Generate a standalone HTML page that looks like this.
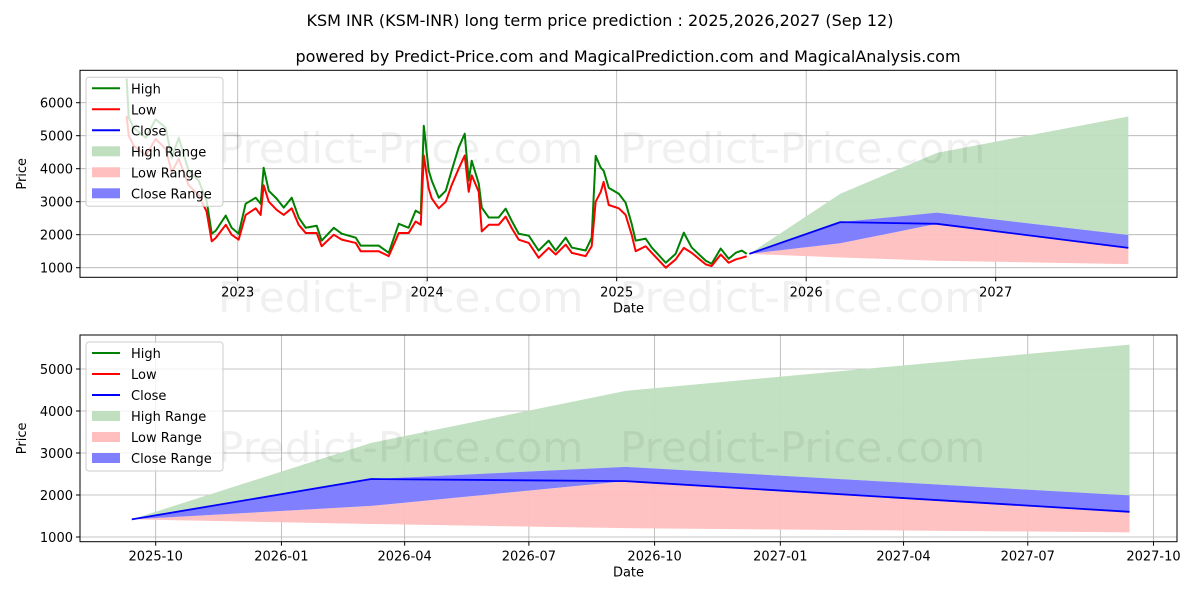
<!DOCTYPE html>
<html><head><meta charset="utf-8"><style>
body{margin:0;background:#fff;}
svg{display:block;font-family:"DejaVu Sans","Liberation Sans",sans-serif;}
</style></head><body>
<svg id="chart" width="1200" height="600" viewBox="0 0 1200 600" xmlns="http://www.w3.org/2000/svg">
<text x="600" y="26" text-anchor="middle" font-size="16">KSM INR (KSM-INR) long term price prediction : 2025,2026,2027 (Sep 12)</text>
<text x="628" y="62" text-anchor="middle" font-size="16">powered by Predict-Price.com and MagicalPrediction.com and MagicalAnalysis.com</text>
<g id="topPanel"></g>
<g id="botPanel"></g>
</svg>
<script>
const histT=[2022.414,2022.425,2022.451,2022.515,2022.567,2022.620,2022.652,2022.689,2022.741,2022.794,2022.836,2022.863,2022.884,2022.937,2022.968,2023.005,2023.042,2023.095,2023.121,2023.137,2023.164,2023.206,2023.243,2023.285,2023.322,2023.359,2023.417,2023.443,2023.507,2023.549,2023.623,2023.649,2023.744,2023.797,2023.850,2023.902,2023.939,2023.966,2023.982,2024.008,2024.024,2024.061,2024.098,2024.129,2024.166,2024.198,2024.219,2024.235,2024.272,2024.288,2024.325,2024.377,2024.414,2024.446,2024.483,2024.536,2024.588,2024.641,2024.678,2024.731,2024.763,2024.836,2024.868,2024.889,2024.916,2024.931,2024.958,2025.011,2025.047,2025.079,2025.100,2025.153,2025.185,2025.259,2025.311,2025.354,2025.396,2025.470,2025.501,2025.549,2025.591,2025.628,2025.660,2025.686];
const histHigh=[6730,5550,5240,4940,5500,5240,4330,4940,3940,3640,3030,2030,2120,2580,2210,2030,2940,3120,2940,4030,3330,3090,2820,3120,2520,2210,2270,1820,2210,2030,1910,1670,1670,1450,2330,2210,2730,2640,5300,3940,3640,3120,3330,3940,4640,5060,3640,4240,3550,2820,2520,2520,2790,2420,2030,1970,1520,1820,1520,1910,1610,1520,1910,4390,4030,3940,3420,3240,2970,2330,1820,1880,1610,1150,1420,2060,1610,1210,1120,1580,1270,1450,1520,1420];
const histLow=[5600,5000,4700,4400,4900,4600,3900,4300,3500,3200,2700,1800,1900,2300,2000,1850,2600,2800,2600,3500,3000,2750,2600,2800,2300,2050,2050,1650,2000,1850,1750,1500,1500,1350,2050,2050,2400,2300,4400,3400,3100,2800,3000,3500,4000,4400,3300,3800,3300,2100,2300,2300,2550,2200,1850,1750,1300,1600,1400,1700,1450,1350,1650,3000,3300,3600,2900,2800,2600,2000,1500,1650,1450,1000,1250,1600,1450,1100,1050,1400,1150,1250,1300,1350];
const fcT=[2025.70,2026.18,2026.69,2027.70];
const fcHigh=[1420,3240,4480,5580];
const fcLow=[1420,1310,1210,1110];
const fcClose=[1420,2380,2330,1600];
const fcCloseUp=[1420,2380,2670,1990];
const fcCloseLo=[1420,1740,2330,1600];
const topYTicks=[1000,2000,3000,4000,5000,6000];
const topXTicks=[2023,2024,2025,2026,2027];
const topXLabels=["2023","2024","2025","2026","2027"];
const botYTicks=[1000,2000,3000,4000,5000];
const botXTicks=[2025.748,2026.0,2026.247,2026.496,2026.748,2027.0,2027.247,2027.496,2027.748];
const botXLabels=["2025-10","2026-01","2026-04","2026-07","2026-10","2027-01","2027-04","2027-07","2027-10"];

const NS="http://www.w3.org/2000/svg";
function mk(parent,tag,attrs){const e=document.createElementNS(NS,tag);for(const k in attrs)e.setAttribute(k,attrs[k]);parent.appendChild(e);return e;}

function panel(g,cfg){
  const {L,R,T,B,x,y}=cfg;
  cfg.yt.forEach(v=>{const l=mk(g,'line',{x1:L,x2:R,y1:y(v),y2:y(v),stroke:'#b0b0b0','stroke-width':0.8});
    
    
    const t=mk(g,'text',{x:L-7,y:y(v)+5,'text-anchor':'end','font-size':13});t.textContent=v;
    
    
    mk(g,'line',{x1:L-4,x2:L,y1:y(v),y2:y(v),stroke:'#000'});});
  cfg.xt.forEach((v,i)=>{const l=mk(g,'line',{x1:x(v),x2:x(v),y1:T,y2:B,stroke:'#b0b0b0','stroke-width':0.8});
    
    
    mk(g,'line',{x1:x(v),x2:x(v),y1:B,y2:B+4,stroke:'#000'});
    const t=mk(g,'text',{x:x(v),y:B+19,'text-anchor':'middle','font-size':13});t.textContent=cfg.xl[i];
    
    });
  const poly=(up,lo,fill,op,name)=>{let pts=fcT.map((t,i)=>x(t)+','+y(up[i]));
    for(let i=fcT.length-1;i>=0;i--)pts.push(x(fcT[i])+','+y(lo[i]));
    const p=mk(g,'polygon',{points:pts.join(' '),fill:fill,'fill-opacity':op});
    
    };
  poly(fcHigh,fcCloseUp,'#bfdfbf',0.95,'high-range-band');
  poly(fcCloseLo,fcLow,'#ffbfbf',0.95,'low-range-band');
  poly(fcCloseUp,fcCloseLo,'#8080ff',1,'close-range-band');
  cfg.marks.forEach(m=>{const w=mk(g,'text',{x:m[0],y:m[1],'font-size':42,fill:'#000','fill-opacity':0.06});w.textContent='Predict-Price.com';
    
    });
  const line=(ts,vs,col,name,w)=>{const p=mk(g,'polyline',{points:ts.map((t,i)=>x(t)+','+y(vs[i])).join(' '),fill:'none',stroke:col,'stroke-width':w,'stroke-linejoin':'round'});
    
    };
  if(cfg.hist){line(histT,histHigh,'#008000','high-line',2);line(histT,histLow,'#ff0000','low-line',2);}
  line(fcT,fcClose,'#0000ff','close-forecast-line',1.8);
  const fr=mk(g,'rect',{x:L,y:T,width:R-L,height:B-T,fill:'none',stroke:'#000','stroke-width':1});
  
  
  const xl=mk(g,'text',{x:(L+R)/2,y:B+35,'text-anchor':'middle','font-size':13});xl.textContent='Date';
  
  
  const yl=mk(g,'text',{x:26,y:(T+B)/2,'text-anchor':'middle','font-size':13,transform:`rotate(-90 26 ${(T+B)/2})`});yl.textContent='Price';
  
  
  const lg=mk(g,'g',{});
  
  
  mk(lg,'rect',{x:L+6,y:T+7,width:137,height:129,rx:3,fill:'#fff','fill-opacity':0.8,stroke:'#ccc'});
  const items=[['High','line','#008000'],['Low','line','#ff0000'],['Close','line','#0000ff'],['High Range','patch','#bfdfbf'],['Low Range','patch','#ffbfbf'],['Close Range','patch','#8080ff']];
  items.forEach((it,i)=>{const cy=T+18+i*21;const e=mk(lg,'g',{});
    
    
    if(it[1]=='line')mk(e,'line',{x1:L+12,x2:L+40,y1:cy,y2:cy,stroke:it[2],'stroke-width':2});
    else mk(e,'rect',{x:L+12,y:cy-5,width:28,height:10,fill:it[2]});
    const t=mk(e,'text',{x:L+51,y:cy+5,'font-size':13});t.textContent=it[0];});
}
const topG=document.getElementById('topPanel');
panel(topG,{L:80,R:1177,T:70.3,B:277.3,hist:true,
  x:t=>995.7+(t-2027)*189.5, y:v=>267.7-(v-1000)*0.033,
  yt:topYTicks,xt:topXTicks,xl:topXLabels,marks:[[218,163],[620,163],[218,312],[620,312]]});
const botG=document.getElementById('botPanel');
panel(botG,{L:80,R:1177,T:335,B:541.7,hist:false,
  x:t=>155.7+(t-2025.748)*498.9, y:v=>537-(v-1000)*0.042,
  yt:botYTicks,xt:botXTicks,xl:botXLabels,marks:[[218,462],[620,462]]});
</script>
</body></html>
